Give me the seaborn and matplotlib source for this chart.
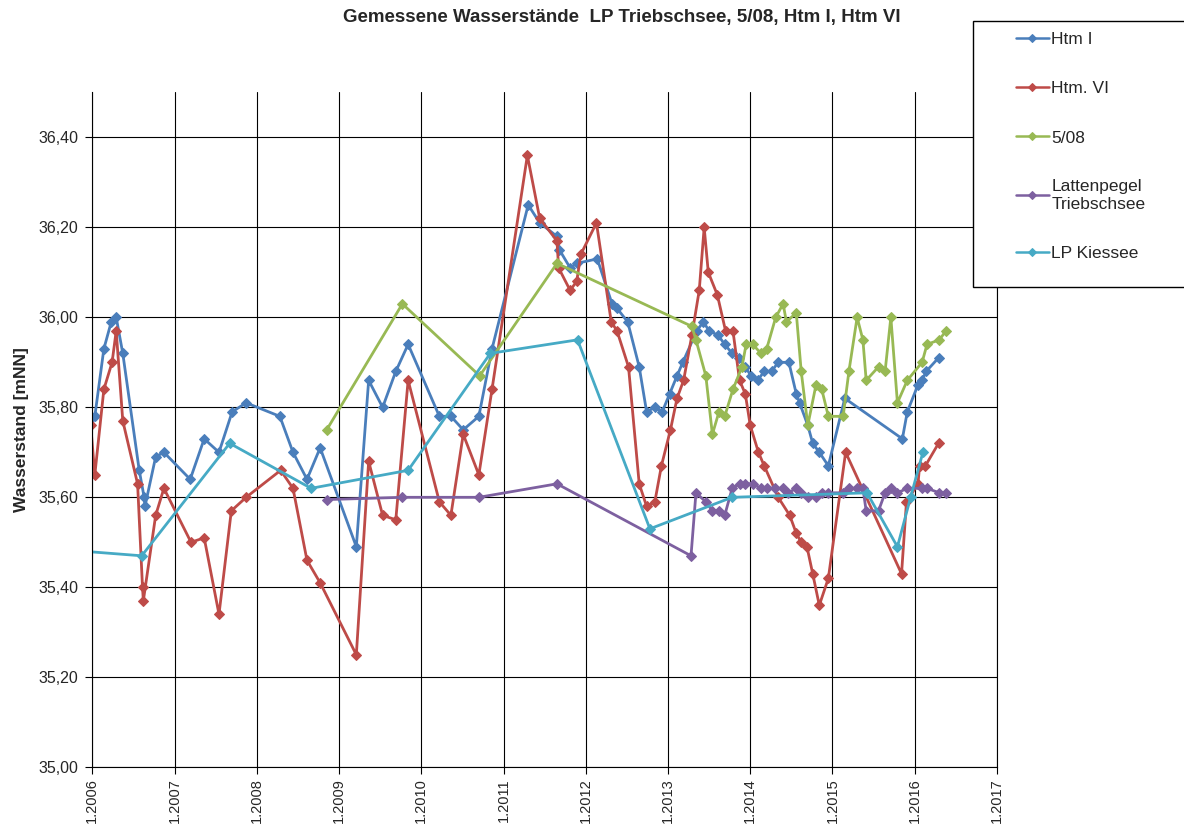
import pandas as pd
import matplotlib
matplotlib.use('Agg')
import matplotlib.pyplot as plt
from matplotlib.patches import Rectangle
from matplotlib.ticker import FuncFormatter, MultipleLocator
import seaborn as sns

htm1_t = [2005.92, 2006.03, 2006.14, 2006.23, 2006.29, 2006.37, 2006.57, 2006.63, 2006.64, 2006.77,
          2006.87, 2007.19, 2007.36, 2007.54, 2007.70, 2007.87, 2008.28, 2008.44, 2008.61, 2008.77,
          2009.21, 2009.36, 2009.53, 2009.69, 2009.84, 2010.22, 2010.36, 2010.51, 2010.70, 2010.86,
          2011.30, 2011.44, 2011.65, 2011.68, 2011.81, 2011.89, 2012.14, 2012.32, 2012.38, 2012.51,
          2012.65, 2012.74, 2012.84, 2012.93, 2013.02, 2013.11, 2013.18, 2013.35, 2013.43, 2013.50,
          2013.61, 2013.69, 2013.78, 2013.86, 2013.94, 2014.01, 2014.09, 2014.17, 2014.26, 2014.34,
          2014.47, 2014.56, 2014.60, 2014.70, 2014.76, 2014.84, 2014.95, 2015.15, 2015.85, 2015.91,
          2016.04, 2016.09, 2016.14, 2016.29]
htm1_v = [35.72, 35.78, 35.93, 35.99, 36.00, 35.92, 35.66, 35.60, 35.58, 35.69,
          35.70, 35.64, 35.73, 35.70, 35.79, 35.81, 35.78, 35.70, 35.64, 35.71,
          35.49, 35.86, 35.80, 35.88, 35.94, 35.78, 35.78, 35.75, 35.78, 35.93,
          36.25, 36.21, 36.18, 36.15, 36.11, 36.12, 36.13, 36.03, 36.02, 35.99,
          35.89, 35.79, 35.80, 35.79, 35.83, 35.87, 35.90, 35.97, 35.99, 35.97,
          35.96, 35.94, 35.92, 35.91, 35.89, 35.87, 35.86, 35.88, 35.88, 35.90,
          35.90, 35.83, 35.81, 35.76, 35.72, 35.70, 35.67, 35.82, 35.73, 35.79,
          35.85, 35.86, 35.88, 35.91]

htm6_t = [2005.98, 2006.03, 2006.14, 2006.24, 2006.29, 2006.37, 2006.55, 2006.61, 2006.62, 2006.77,
          2006.87, 2007.20, 2007.36, 2007.54, 2007.69, 2007.87, 2008.29, 2008.44, 2008.61, 2008.77,
          2009.21, 2009.36, 2009.53, 2009.69, 2009.84, 2010.22, 2010.36, 2010.51, 2010.70, 2010.86,
          2011.29, 2011.44, 2011.65, 2011.67, 2011.81, 2011.89, 2011.94, 2012.13, 2012.31, 2012.38,
          2012.52, 2012.65, 2012.74, 2012.84, 2012.92, 2013.03, 2013.11, 2013.19, 2013.29, 2013.38,
          2013.44, 2013.49, 2013.60, 2013.70, 2013.79, 2013.87, 2013.94, 2014.00, 2014.10, 2014.17,
          2014.34, 2014.48, 2014.56, 2014.62, 2014.69, 2014.76, 2014.84, 2014.95, 2015.16, 2015.84,
          2015.90, 2016.04, 2016.06, 2016.13, 2016.29]
htm6_v = [35.76, 35.65, 35.84, 35.90, 35.97, 35.77, 35.63, 35.40, 35.37, 35.56,
          35.62, 35.50, 35.51, 35.34, 35.57, 35.60, 35.66, 35.62, 35.46, 35.41,
          35.25, 35.68, 35.56, 35.55, 35.86, 35.59, 35.56, 35.74, 35.65, 35.84,
          36.36, 36.22, 36.17, 36.11, 36.06, 36.08, 36.14, 36.21, 35.99, 35.97,
          35.89, 35.63, 35.58, 35.59, 35.67, 35.75, 35.82, 35.86, 35.96, 36.06,
          36.20, 36.10, 36.05, 35.97, 35.97, 35.86, 35.83, 35.76, 35.70, 35.67,
          35.60, 35.56, 35.52, 35.50, 35.49, 35.43, 35.36, 35.42, 35.70, 35.43,
          35.59, 35.63, 35.67, 35.67, 35.72]

p508_t = [2008.85, 2009.77, 2010.71, 2011.65, 2013.29, 2013.34, 2013.46, 2013.54, 2013.62, 2013.69,
          2013.79, 2013.90, 2013.95, 2014.03, 2014.13, 2014.20, 2014.31, 2014.40, 2014.44, 2014.56,
          2014.62, 2014.70, 2014.80, 2014.87, 2014.95, 2015.13, 2015.20, 2015.30, 2015.37, 2015.41,
          2015.56, 2015.64, 2015.71, 2015.79, 2015.91, 2016.09, 2016.15, 2016.30, 2016.38]
p508_v = [35.75, 36.03, 35.87, 36.12, 35.98, 35.95, 35.87, 35.74, 35.79, 35.78,
          35.84, 35.89, 35.94, 35.94, 35.92, 35.93, 36.00, 36.03, 35.99, 36.01,
          35.88, 35.76, 35.85, 35.84, 35.78, 35.78, 35.88, 36.00, 35.95, 35.86,
          35.89, 35.88, 36.00, 35.81, 35.86, 35.90, 35.94, 35.95, 35.97]

lpt_t = [2008.85, 2009.77, 2010.70, 2011.65, 2013.28, 2013.34, 2013.46, 2013.54, 2013.62, 2013.69,
         2013.78, 2013.87, 2013.94, 2014.03, 2014.13, 2014.21, 2014.30, 2014.40, 2014.46, 2014.56,
         2014.62, 2014.70, 2014.80, 2014.87, 2014.95, 2015.13, 2015.20, 2015.30, 2015.37, 2015.41,
         2015.56, 2015.64, 2015.71, 2015.79, 2015.91, 2016.09, 2016.15, 2016.30, 2016.38]
lpt_v = [35.595, 35.60, 35.60, 35.63, 35.47, 35.61, 35.59, 35.57, 35.57, 35.56,
         35.62, 35.63, 35.63, 35.63, 35.62, 35.62, 35.62, 35.62, 35.61, 35.62,
         35.61, 35.60, 35.60, 35.61, 35.61, 35.61, 35.62, 35.62, 35.62, 35.57,
         35.57, 35.61, 35.62, 35.61, 35.62, 35.62, 35.62, 35.61, 35.61]

lpk_t = [2005.90, 2006.60, 2007.67, 2008.66, 2009.84, 2010.84, 2011.90, 2012.78, 2013.78, 2015.42,
         2015.79, 2015.95, 2016.10]
lpk_v = [35.48, 35.47, 35.72, 35.62, 35.66, 35.92, 35.95, 35.53, 35.60, 35.61,
         35.49, 35.60, 35.70]

series = [
    ('Htm I', htm1_t, htm1_v, '#4A7EBB'),
    ('Htm. VI', htm6_t, htm6_v, '#BE4B48'),
    ('5/08', p508_t, p508_v, '#98B954'),
    ('Lattenpegel\nTriebschsee', lpt_t, lpt_v, '#7D60A0'),
    ('LP Kiessee', lpk_t, lpk_v, '#46AAC5'),
]
years = list(range(2006, 2018))

sns.set_style('white')
plt.rcParams['font.family'] = ['Liberation Sans', 'DejaVu Sans']

fig = plt.figure(figsize=(11.84, 8.25), dpi=100)
ax = fig.add_axes([0.078, 0.070, 0.764, 0.818])

for name, t, v, col in series:
    df = pd.DataFrame({'Zeit': t, 'Wasserstand': v})
    sns.lineplot(data=df, x='Zeit', y='Wasserstand', ax=ax, color=col, label=name,
                 estimator=None, sort=False, marker='D', markersize=5.5,
                 markeredgecolor=col, linewidth=2)

ax.set_xlim(2006, 2017)
ax.set_ylim(35.0, 36.5)
ax.set_xticks(years)
ax.set_xticklabels([f'1.{y}' for y in years], rotation=90, fontsize=10.5)
ax.yaxis.set_major_locator(MultipleLocator(0.2))
ax.yaxis.set_major_formatter(FuncFormatter(lambda v, p: f'{v:.2f}'.replace('.', ',')))
ax.tick_params(axis='y', labelsize=11.5, pad=5)
ax.tick_params(axis='x', pad=3)
ax.tick_params(axis='both', direction='out', length=5, width=0.8, color='black', left=True, bottom=True)
ax.grid(True, color='black', linewidth=0.8)
ax.set_axisbelow(True)
for s in ['left', 'bottom', 'right']:
    ax.spines[s].set_color('black')
    ax.spines[s].set_linewidth(0.8)
ax.spines['top'].set_visible(False)

ax.set_xlabel('')
ax.set_ylabel('Wasserstand [mNN]', fontsize=12.5, fontweight='bold')
ax.yaxis.set_label_coords(-0.070, 0.5)

fig.text(0.525, 0.979, 'Gemessene Wasserstände  LP Triebschsee, 5/08, Htm I, Htm VI',
         ha='center', va='center', fontsize=13.5, fontweight='bold')

# Legendenrahmen liegt über dem Diagramm und läuft rechts aus dem Bild
fig.patches.append(Rectangle((0.8218, 0.6521), 0.2, 0.3224, transform=fig.transFigure,
                             facecolor='white', edgecolor='black', linewidth=1, zorder=3))

handles, labels = ax.get_legend_handles_labels()
ax.get_legend().remove()
leg = fig.legend(handles, labels, loc='upper left', bbox_to_anchor=(0.858, 0.9608),
                 fontsize=12.5, labelspacing=1.95, handlelength=1.9, handletextpad=0.15,
                 borderpad=0, borderaxespad=0, frameon=False)
leg.set_zorder(4)
for h in leg.legend_handles:
    h.set_markersize(4.5)
    h.set_linewidth(1.8)

fig.savefig('out.png', dpi=100)
